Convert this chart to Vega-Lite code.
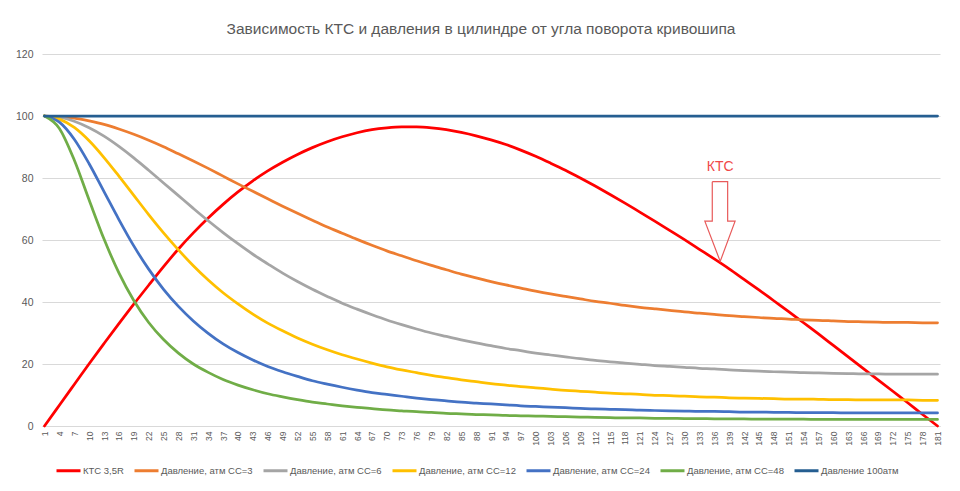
{
  "$schema": "https://vega.github.io/schema/vega-lite/v6.json",
  "width": 898,
  "height": 372,
  "autosize": {"type": "none"},
  "padding": {"left": 42, "top": 54, "right": 20, "bottom": 65},
  "background": "white",
  "title": {
    "text": "Зависимость КТС и давления в цилиндре от угла поворота кривошипа",
    "font": "Liberation Sans",
    "fontSize": 15.5,
    "fontWeight": "normal",
    "color": "#595959",
    "anchor": "middle",
    "offset": 12,
    "dx": -10
  },
  "config": {
    "view": {"stroke": null},
    "font": "Liberation Sans",
    "axisX": {"labelOverlap": false, "labelFlush": false, "labelAngle": -90, "ticks": false, "grid": false, "domainColor": "#d9d9d9", "labelColor": "#595959", "labelFontSize": 8.5, "labelPadding": 5},
    "axisY": {"domain": false, "ticks": false, "gridColor": "#d9d9d9", "labelColor": "#595959", "labelFontSize": 10.5, "labelPadding": 9}
  },
  "datasets": {
    "curves": [
      {"x": 1, "ktc": 0, "cc3": 100, "cc6": 100, "cc12": 100, "cc24": 100, "cc48": 100, "p100": 100},
      {"x": 4, "ktc": 6.7, "cc3": 99.8, "cc6": 99.6, "cc12": 99.0, "cc24": 98.0, "cc48": 96.0, "p100": 100},
      {"x": 7, "ktc": 13.4, "cc3": 99.3, "cc6": 98.3, "cc12": 96.3, "cc24": 92.5, "cc48": 85.8, "p100": 100},
      {"x": 10, "ktc": 20.1, "cc3": 98.4, "cc6": 96.2, "cc12": 92.0, "cc24": 84.6, "cc48": 72.9, "p100": 100},
      {"x": 13, "ktc": 26.6, "cc3": 97.3, "cc6": 93.5, "cc12": 86.6, "cc24": 75.6, "cc48": 60.3, "p100": 100},
      {"x": 16, "ktc": 33.0, "cc3": 95.8, "cc6": 90.2, "cc12": 80.6, "cc24": 66.6, "cc48": 49.4, "p100": 100},
      {"x": 19, "ktc": 39.3, "cc3": 94.1, "cc6": 86.5, "cc12": 74.4, "cc24": 58.1, "cc48": 40.5, "p100": 100},
      {"x": 22, "ktc": 45.4, "cc3": 92.2, "cc6": 82.5, "cc12": 68.2, "cc24": 50.6, "cc48": 33.4, "p100": 100},
      {"x": 25, "ktc": 51.4, "cc3": 90.1, "cc6": 78.4, "cc12": 62.3, "cc24": 44.1, "cc48": 27.9, "p100": 100},
      {"x": 28, "ktc": 57.1, "cc3": 87.8, "cc6": 74.3, "cc12": 56.8, "cc24": 38.6, "cc48": 23.5, "p100": 100},
      {"x": 31, "ktc": 62.3, "cc3": 85.5, "cc6": 70.2, "cc12": 51.7, "cc24": 33.9, "cc48": 20.0, "p100": 100},
      {"x": 34, "ktc": 67.1, "cc3": 83.1, "cc6": 66.2, "cc12": 47.1, "cc24": 29.9, "cc48": 17.3, "p100": 100},
      {"x": 37, "ktc": 71.5, "cc3": 80.6, "cc6": 62.4, "cc12": 43.0, "cc24": 26.5, "cc48": 15.0, "p100": 100},
      {"x": 40, "ktc": 75.5, "cc3": 78.1, "cc6": 58.8, "cc12": 39.4, "cc24": 23.7, "cc48": 13.2, "p100": 100},
      {"x": 43, "ktc": 79.1, "cc3": 75.7, "cc6": 55.4, "cc12": 36.1, "cc24": 21.3, "cc48": 11.7, "p100": 100},
      {"x": 46, "ktc": 82.3, "cc3": 73.3, "cc6": 52.3, "cc12": 33.2, "cc24": 19.2, "cc48": 10.4, "p100": 100},
      {"x": 49, "ktc": 85.1, "cc3": 70.9, "cc6": 49.3, "cc12": 30.7, "cc24": 17.5, "cc48": 9.4, "p100": 100},
      {"x": 52, "ktc": 87.6, "cc3": 68.6, "cc6": 46.6, "cc12": 28.4, "cc24": 16.0, "cc48": 8.5, "p100": 100},
      {"x": 55, "ktc": 89.8, "cc3": 66.4, "cc6": 44.1, "cc12": 26.4, "cc24": 14.6, "cc48": 7.7, "p100": 100},
      {"x": 58, "ktc": 91.7, "cc3": 64.2, "cc6": 41.8, "cc12": 24.6, "cc24": 13.5, "cc48": 7.1, "p100": 100},
      {"x": 61, "ktc": 93.3, "cc3": 62.2, "cc6": 39.6, "cc12": 23.0, "cc24": 12.5, "cc48": 6.5, "p100": 100},
      {"x": 64, "ktc": 94.6, "cc3": 60.2, "cc6": 37.7, "cc12": 21.6, "cc24": 11.6, "cc48": 6.0, "p100": 100},
      {"x": 67, "ktc": 95.6, "cc3": 58.3, "cc6": 35.9, "cc12": 20.3, "cc24": 10.8, "cc48": 5.6, "p100": 100},
      {"x": 70, "ktc": 96.2, "cc3": 56.5, "cc6": 34.2, "cc12": 19.1, "cc24": 10.2, "cc48": 5.2, "p100": 100},
      {"x": 73, "ktc": 96.5, "cc3": 54.9, "cc6": 32.7, "cc12": 18.1, "cc24": 9.6, "cc48": 4.9, "p100": 100},
      {"x": 76, "ktc": 96.5, "cc3": 53.3, "cc6": 31.3, "cc12": 17.2, "cc24": 9.0, "cc48": 4.6, "p100": 100},
      {"x": 79, "ktc": 96.2, "cc3": 51.8, "cc6": 30.0, "cc12": 16.3, "cc24": 8.5, "cc48": 4.4, "p100": 100},
      {"x": 82, "ktc": 95.6, "cc3": 50.4, "cc6": 28.9, "cc12": 15.6, "cc24": 8.1, "cc48": 4.1, "p100": 100},
      {"x": 85, "ktc": 94.7, "cc3": 49.0, "cc6": 27.8, "cc12": 14.9, "cc24": 7.7, "cc48": 3.9, "p100": 100},
      {"x": 88, "ktc": 93.6, "cc3": 47.8, "cc6": 26.8, "cc12": 14.3, "cc24": 7.4, "cc48": 3.7, "p100": 100},
      {"x": 91, "ktc": 92.3, "cc3": 46.6, "cc6": 25.9, "cc12": 13.7, "cc24": 7.1, "cc48": 3.6, "p100": 100},
      {"x": 94, "ktc": 90.8, "cc3": 45.5, "cc6": 25.0, "cc12": 13.2, "cc24": 6.8, "cc48": 3.4, "p100": 100},
      {"x": 97, "ktc": 89.0, "cc3": 44.5, "cc6": 24.3, "cc12": 12.7, "cc24": 6.5, "cc48": 3.3, "p100": 100},
      {"x": 100, "ktc": 87.0, "cc3": 43.5, "cc6": 23.5, "cc12": 12.3, "cc24": 6.3, "cc48": 3.2, "p100": 100},
      {"x": 103, "ktc": 84.8, "cc3": 42.6, "cc6": 22.9, "cc12": 11.9, "cc24": 6.1, "cc48": 3.1, "p100": 100},
      {"x": 106, "ktc": 82.5, "cc3": 41.8, "cc6": 22.3, "cc12": 11.5, "cc24": 5.9, "cc48": 3.0, "p100": 100},
      {"x": 109, "ktc": 80.0, "cc3": 41.0, "cc6": 21.7, "cc12": 11.2, "cc24": 5.7, "cc48": 2.9, "p100": 100},
      {"x": 112, "ktc": 77.4, "cc3": 40.2, "cc6": 21.2, "cc12": 10.9, "cc24": 5.5, "cc48": 2.8, "p100": 100},
      {"x": 115, "ktc": 74.7, "cc3": 39.6, "cc6": 20.7, "cc12": 10.6, "cc24": 5.4, "cc48": 2.7, "p100": 100},
      {"x": 118, "ktc": 71.9, "cc3": 38.9, "cc6": 20.3, "cc12": 10.4, "cc24": 5.3, "cc48": 2.6, "p100": 100},
      {"x": 121, "ktc": 69.0, "cc3": 38.3, "cc6": 19.9, "cc12": 10.2, "cc24": 5.1, "cc48": 2.6, "p100": 100},
      {"x": 124, "ktc": 66.1, "cc3": 37.8, "cc6": 19.5, "cc12": 9.9, "cc24": 5.0, "cc48": 2.5, "p100": 100},
      {"x": 127, "ktc": 63.1, "cc3": 37.3, "cc6": 19.2, "cc12": 9.8, "cc24": 4.9, "cc48": 2.5, "p100": 100},
      {"x": 130, "ktc": 60.1, "cc3": 36.8, "cc6": 18.9, "cc12": 9.6, "cc24": 4.8, "cc48": 2.4, "p100": 100},
      {"x": 133, "ktc": 57.0, "cc3": 36.4, "cc6": 18.6, "cc12": 9.4, "cc24": 4.7, "cc48": 2.4, "p100": 100},
      {"x": 136, "ktc": 53.9, "cc3": 36.0, "cc6": 18.4, "cc12": 9.3, "cc24": 4.7, "cc48": 2.3, "p100": 100},
      {"x": 139, "ktc": 50.7, "cc3": 35.6, "cc6": 18.1, "cc12": 9.1, "cc24": 4.6, "cc48": 2.3, "p100": 100},
      {"x": 142, "ktc": 47.3, "cc3": 35.3, "cc6": 17.9, "cc12": 9.0, "cc24": 4.5, "cc48": 2.3, "p100": 100},
      {"x": 145, "ktc": 43.9, "cc3": 35.0, "cc6": 17.7, "cc12": 8.9, "cc24": 4.5, "cc48": 2.2, "p100": 100},
      {"x": 148, "ktc": 40.4, "cc3": 34.7, "cc6": 17.5, "cc12": 8.8, "cc24": 4.4, "cc48": 2.2, "p100": 100},
      {"x": 151, "ktc": 36.9, "cc3": 34.5, "cc6": 17.4, "cc12": 8.7, "cc24": 4.4, "cc48": 2.2, "p100": 100},
      {"x": 154, "ktc": 33.3, "cc3": 34.2, "cc6": 17.2, "cc12": 8.7, "cc24": 4.3, "cc48": 2.2, "p100": 100},
      {"x": 157, "ktc": 29.7, "cc3": 34.1, "cc6": 17.1, "cc12": 8.6, "cc24": 4.3, "cc48": 2.1, "p100": 100},
      {"x": 160, "ktc": 26.0, "cc3": 33.9, "cc6": 17.0, "cc12": 8.5, "cc24": 4.3, "cc48": 2.1, "p100": 100},
      {"x": 163, "ktc": 22.3, "cc3": 33.7, "cc6": 16.9, "cc12": 8.5, "cc24": 4.2, "cc48": 2.1, "p100": 100},
      {"x": 166, "ktc": 18.6, "cc3": 33.6, "cc6": 16.8, "cc12": 8.4, "cc24": 4.2, "cc48": 2.1, "p100": 100},
      {"x": 169, "ktc": 14.9, "cc3": 33.5, "cc6": 16.8, "cc12": 8.4, "cc24": 4.2, "cc48": 2.1, "p100": 100},
      {"x": 172, "ktc": 11.2, "cc3": 33.4, "cc6": 16.7, "cc12": 8.4, "cc24": 4.2, "cc48": 2.1, "p100": 100},
      {"x": 175, "ktc": 7.5, "cc3": 33.4, "cc6": 16.7, "cc12": 8.4, "cc24": 4.2, "cc48": 2.1, "p100": 100},
      {"x": 178, "ktc": 3.7, "cc3": 33.3, "cc6": 16.7, "cc12": 8.3, "cc24": 4.2, "cc48": 2.1, "p100": 100},
      {"x": 181, "ktc": 0, "cc3": 33.3, "cc6": 16.7, "cc12": 8.3, "cc24": 4.2, "cc48": 2.1, "p100": 100}
    ],
    "arrow": [
      {"i": 0, "x": 135.6, "value": 78.8},
      {"i": 1, "x": 138.7, "value": 78.8},
      {"i": 2, "x": 138.7, "value": 66.1},
      {"i": 3, "x": 140.2, "value": 66.1},
      {"i": 4, "x": 137.2, "value": 53.1},
      {"i": 5, "x": 134.1, "value": 66.1},
      {"i": 6, "x": 135.6, "value": 66.1},
      {"i": 7, "x": 135.6, "value": 78.8}
    ],
    "note": [
      {"x": 137.2, "value": 83.6, "label": "КТС"}
    ]
  },
  "encoding": {
    "x": {
      "field": "x",
      "type": "quantitative",
      "scale": {"domain": [0.5, 181.5], "nice": false, "zero": false},
      "axis": {
        "title": null,
        "labelOverlap": false,
        "values": [1,4,7,10,13,16,19,22,25,28,31,34,37,40,43,46,49,52,55,58,61,64,67,70,73,76,79,82,85,88,91,94,97,100,103,106,109,112,115,118,121,124,127,130,133,136,139,142,145,148,151,154,157,160,163,166,169,172,175,178,181]
      }
    },
    "y": {
      "field": "value",
      "type": "quantitative",
      "scale": {"domain": [0, 120], "nice": false},
      "axis": {"title": null, "values": [0, 20, 40, 60, 80, 100, 120]}
    }
  },
  "layer": [
    {
      "data": {"name": "curves"},
      "transform": [
        {"fold": ["ktc", "cc3", "cc6", "cc12", "cc24", "cc48", "p100"], "as": ["series", "value"]}
      ],
      "mark": {"type": "line", "strokeWidth": 2.75, "interpolate": "monotone", "strokeCap": "round"},
      "encoding": {
        "color": {
          "field": "series",
          "type": "nominal",
          "scale": {
            "domain": ["ktc", "cc3", "cc6", "cc12", "cc24", "cc48", "p100"],
            "range": ["#FF0000", "#ED7D31", "#A5A5A5", "#FFC000", "#4472C4", "#70AD47", "#255E91"]
          },
          "legend": {
            "title": null,
            "orient": "none",
            "legendX": 13,
            "legendY": 403,
            "direction": "horizontal",
            "columns": 7,
            "symbolType": "stroke",
            "symbolStrokeWidth": 3,
            "symbolSize": 576,
            "labelFontSize": 9.5,
            "labelColor": "#595959",
            "labelOffset": 1,
            "columnPadding": 4,
            "labelExpr": "datum.label == 'ktc' ? 'КТС 3,5R' : datum.label == 'cc3' ? 'Давление, атм СС=3' : datum.label == 'cc6' ? 'Давление, атм СС=6' : datum.label == 'cc12' ? 'Давление, атм СС=12' : datum.label == 'cc24' ? 'Давление, атм СС=24' : datum.label == 'cc48' ? 'Давление, атм СС=48' : 'Давление 100атм'"
          }
        }
      }
    },
    {
      "data": {"name": "arrow"},
      "mark": {"type": "line", "stroke": "#e85a5a", "strokeWidth": 1.2, "interpolate": "linear"},
      "encoding": {
        "order": {"field": "i", "type": "quantitative"}
      }
    },
    {
      "data": {"name": "note"},
      "mark": {"type": "text", "color": "#f04848", "fontSize": 14, "font": "Liberation Sans", "align": "center", "baseline": "middle"},
      "encoding": {
        "text": {"field": "label"}
      }
    }
  ]
}
